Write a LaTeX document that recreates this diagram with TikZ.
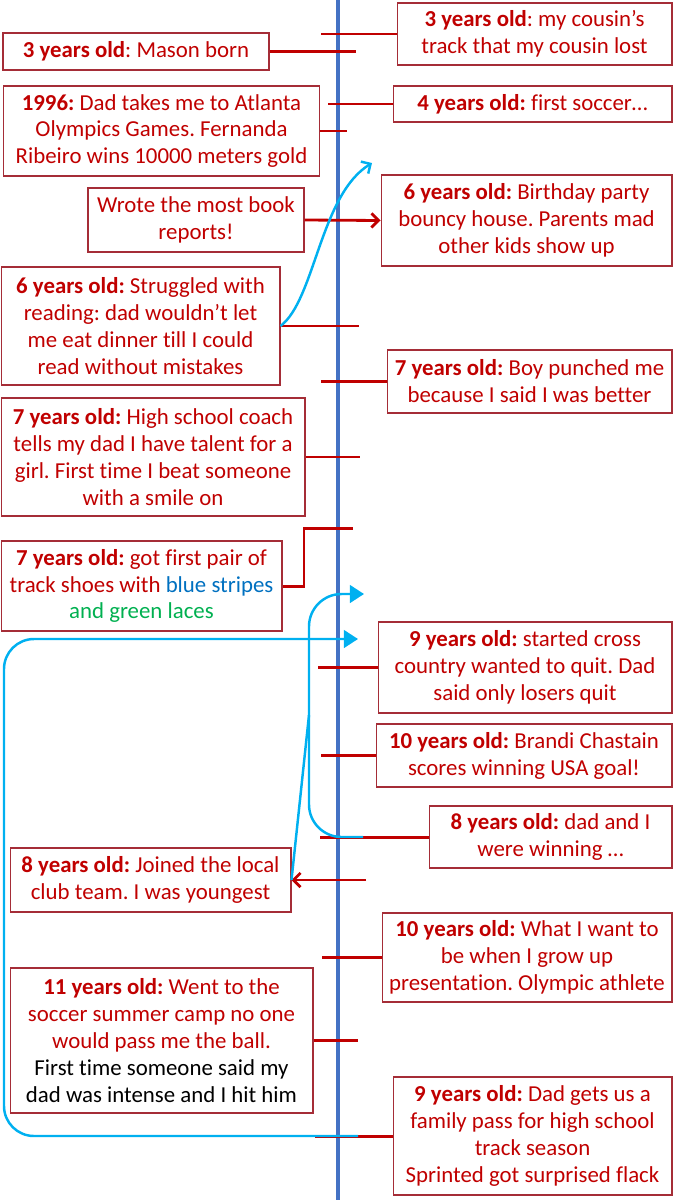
\documentclass[tikz,border=0pt]{standalone}
\usepackage{fontspec}
\setmainfont{Carlito}[Ligatures=NoCommon]
\usetikzlibrary{arrows.meta}

\definecolor{txtred}{RGB}{192,0,0}
\definecolor{boxred}{RGB}{165,45,55}
\definecolor{lineblue}{RGB}{68,114,196}
\definecolor{curveblue}{RGB}{0,176,240}
\definecolor{stripeblue}{RGB}{0,112,192}
\definecolor{lacegreen}{RGB}{0,176,80}
\newcommand{\yo}[1]{\textbf{#1}}
\frenchspacing

\begin{document}
\begin{tikzpicture}[
  x=0.02cm, y=-0.02cm,
  box/.style={rectangle, draw=boxred, line width=0.6pt, text=txtred, align=center,
    inner sep=1pt, font=\fontsize{13}{15.3}\selectfont},
  timeline/.style={draw=lineblue, line width=2.8pt},
  tick/.style={draw=txtred, line width=1.7pt},
  arr/.style={draw=txtred, line width=1.6pt, -{Straight Barb[length=4pt,width=8pt]}},
  lift/.style={draw=curveblue, line width=1.4pt},
  liftarr/.style={lift, -{Triangle[length=8pt,width=10pt]}}
]
\useasboundingbox (0,0) rectangle (675,1200);

% Timeline
\coordinate (top) at (338,0);
\coordinate (bottom) at (338,1200);
\draw[timeline] (top) -- (bottom);

% Left column
\node[box, minimum width=5.32cm, minimum height=0.74cm] (mason) at (136,51.5) {\yo{3 years old}: Mason born};
\node[box, minimum width=6.34cm, minimum height=1.8cm] (atlanta) at (161.5,131) {\yo{1996:} Dad takes me to Atlanta\\Olympics Games. Fernanda\\Ribeiro wins 10000 meters gold};
\node[box, minimum width=4.32cm, minimum height=1.28cm] (reports) at (196,220) {Wrote the most book\\reports!};
\node[box, minimum width=5.58cm, minimum height=2.36cm] (reading) at (140.5,326) {\yo{6 years old:} Struggled with\\reading: dad wouldn’t let\\me eat dinner till I could\\read without mistakes};
\node[box, minimum width=6.08cm, minimum height=2.36cm] (coach) at (153,457) {\yo{7 years old:} High school coach\\tells my dad I have talent for a\\girl. First time I beat someone\\with a smile on};
\node[box, minimum width=5.62cm, minimum height=1.8cm] (shoes) at (141.5,586) {\yo{7 years old:} got first pair of\\track shoes with {\color{stripeblue}blue stripes}\\\color{lacegreen}and green laces};
\node[box, minimum width=5.62cm, minimum height=1.28cm] (club) at (150.5,880) {\yo{8 years old:} Joined the local\\club team. I was youngest};
\node[box, minimum width=6.06cm, minimum height=2.9cm] (camp) at (161.5,1040.5) {\yo{11 years old:} Went to the\\soccer summer camp no one\\would pass me the ball.\\\color{black}First time someone said my\\\color{black}dad was intense and I hit him};

% Right column
\node[box, minimum width=5.5cm, minimum height=1.24cm] (cousin) at (534.5,34) {\yo{3 years old}: my cousin’s\\track that my cousin lost};
\node[box, minimum width=5.58cm, minimum height=0.72cm] (soccer) at (532.5,104) {\yo{4 years old:} first soccer…};
\node[box, minimum width=5.82cm, minimum height=1.82cm] (party) at (526.5,220.5) {\yo{6 years old:} Birthday party\\bouncy house. Parents mad\\other kids show up};
\node[box, minimum width=5.7cm, minimum height=1.26cm] (punched) at (529.5,381.5) {\yo{7 years old:} Boy punched me\\because I said I was better};
\node[box, minimum width=5.88cm, minimum height=1.82cm] (cross) at (525,667.5) {\yo{9 years old:} started cross\\country wanted to quit. Dad\\said only losers quit};
\node[box, minimum width=5.92cm, minimum height=1.26cm] (chastain) at (524,755.5) {\yo{10 years old:} Brandi Chastain\\scores winning USA goal!};
\node[box, minimum width=4.86cm, minimum height=1.24cm] (winning) at (550.5,837) {\yo{8 years old:} dad and I\\were winning …};
\node[box, minimum width=5.8cm, minimum height=1.78cm] (olympic) at (527,957.5) {\yo{10 years old:} What I want to\\be when I grow up\\presentation. Olympic athlete};
\node[box, minimum width=5.58cm, minimum height=2.36cm] (pass) at (532.5,1136) {\yo{9 years old:} Dad gets us a\\family pass for high school\\track season\\Sprinted got surprised flack};

% Ticks
\coordinate (t-mason) at (356,51.5);
\coordinate (t-atlanta) at (347,131);
\coordinate (t-reading) at (359,326);
\coordinate (t-coach) at (360,457);
\coordinate (t-camp) at (358,1040.5);
\coordinate (t-cousin) at (321,34);
\coordinate (t-soccer) at (328,104);
\coordinate (t-punched) at (321,381.5);
\coordinate (t-cross) at (318,667.5);
\coordinate (t-chastain) at (321,755.5);
\coordinate (t-winning) at (320,837);
\coordinate (t-olympic) at (322,957.5);
\coordinate (t-pass) at (315,1136);
\foreach \n in {mason,atlanta,reading,coach,camp}
  \draw[tick] (\n.east) -- (t-\n);
\foreach \n in {cousin,soccer,punched,cross,chastain,winning,olympic,pass}
  \draw[tick] (\n.west) -- (t-\n);

% Shoes elbow
\coordinate (t-shoes) at (353,528);
\draw[tick] (shoes.east) -- (304,586) -- (304,528) -- (t-shoes);

% Red arrows
\coordinate (s-club) at (366,880);
\draw[arr] (reports.east) -- (party.west);
\draw[arr] (s-club) -- (club.east);

% Blue connectors
\coordinate (e-reading) at (372,163);
\draw[lift, -{Straight Barb[length=4pt,width=8pt]}] (reading.east) .. controls (315,300) and (320,195) .. (e-reading);

\coordinate (s-winning) at (363,837);
\coordinate (e-winning) at (364,594);
\coordinate (join) at (309,715);
\draw[liftarr, rounded corners=0.65cm] (s-winning) -- (309,837) -- (309,594) -- (e-winning);
\draw[lift] (club.east) -- (join);

\coordinate (s-pass) at (358,1136);
\coordinate (e-pass) at (358,639);
\draw[liftarr, rounded corners=0.6cm] (s-pass) -- (4,1136) -- (4,639) -- (e-pass);

\end{tikzpicture}
\end{document}
